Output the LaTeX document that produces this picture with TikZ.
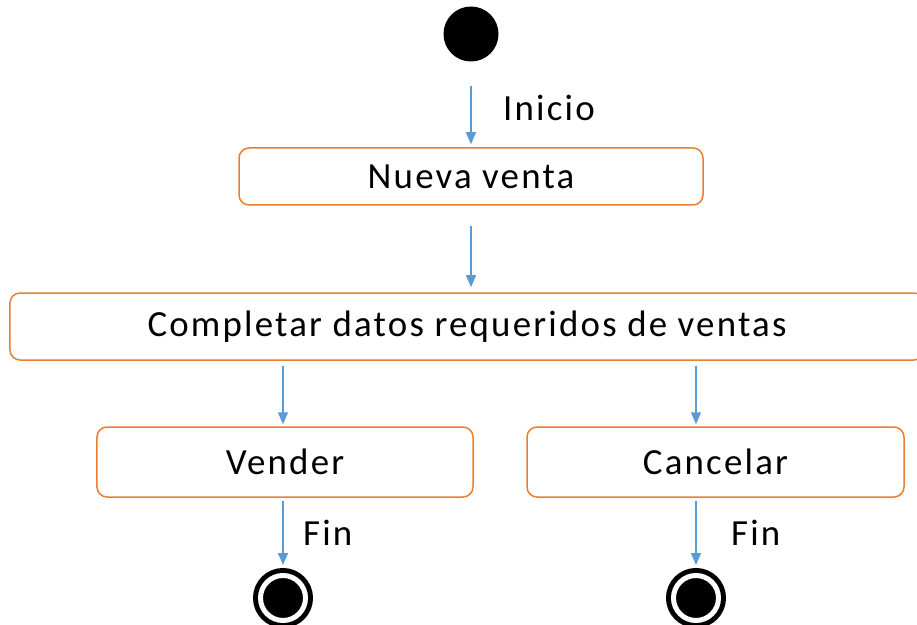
\documentclass[tikz,border=0pt]{standalone}
\usepackage{fontspec}
\setmainfont{Carlito}[LetterSpace=6]
\usetikzlibrary{arrows.meta}
\definecolor{bordenaranja}{HTML}{ED7D31}
\definecolor{flujoazul}{HTML}{5B9BD5}

\begin{document}
\begin{tikzpicture}[x=1bp, y=-1bp,
    every node/.style={font=\fontsize{37}{44}\selectfont},
    actividad/.style={draw=bordenaranja, line width=1.5bp, rounded corners=10bp, fill=white, inner sep=0pt},
    flujo/.style={draw=flujoazul, line width=1.5bp, -{Triangle[length=12bp, width=10bp]}},
    etiqueta/.style={anchor=west, inner sep=0pt},
    estadofin/.style={circle, fill=black, draw=black, double=white, line width=5bp, double distance=5bp, minimum size=45bp, inner sep=0pt}]
    \useasboundingbox (0,0) rectangle (917,625);
    \clip (0,0) rectangle (917,625);

    \node[circle, fill=black, minimum size=55bp, inner sep=0pt] (inicio) at (471,34) {};
    \node[actividad, minimum width=464bp, minimum height=57bp] (nueva) at (471,176.5) {Nueva venta};
    \node[actividad, minimum width=914bp, minimum height=67bp] (completar) at (467,326.5) {Completar datos requeridos de ventas};
    \node[actividad, minimum width=376bp, minimum height=70bp] (vender) at (285,462) {Vender};
    \node[actividad, minimum width=377bp, minimum height=70bp] (cancelar) at (715.5,462) {Cancelar};
    \node[estadofin] (fin1) at (283,598) {};
    \node[estadofin] (fin2) at (696,598) {};

    \draw[flujo, shorten <=24bp, shorten >=3bp] (inicio) -- (nueva);
    \node[etiqueta] (lblinicio) at (503,108) {Inicio};
    \draw[flujo, shorten <=20bp, shorten >=5bp] (nueva) -- (nueva |- completar.north);

    \draw[flujo, shorten <=5bp, shorten >=2bp] (fin1 |- completar.south) -- (fin1 |- vender.north);
    \draw[flujo, shorten <=5bp, shorten >=2bp] (fin2 |- completar.south) -- (fin2 |- cancelar.north);

    \draw[flujo, shorten <=3bp, shorten >=8bp] (fin1 |- vender.south) -- (fin1.north);
    \node[etiqueta] (lblfin1) at (303,533) {Fin};
    \draw[flujo, shorten <=3bp, shorten >=8bp] (fin2 |- cancelar.south) -- (fin2.north);
    \node[etiqueta] (lblfin2) at (731,533) {Fin};
\end{tikzpicture}
\end{document}
